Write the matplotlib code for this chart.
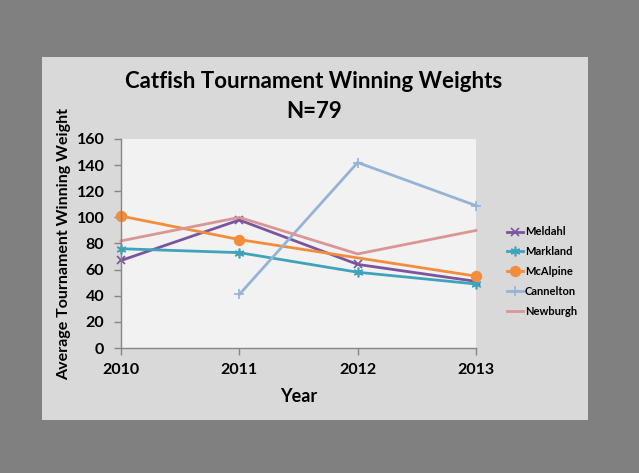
import matplotlib

matplotlib.use("Agg", force=True)
import matplotlib.pyplot as plt
from matplotlib.patches import Rectangle

plt.rcParams["font.family"] = ["Lato", "DejaVu Sans"]
plt.rcParams["font.weight"] = "bold"

years = ["2010", "2011", "2012", "2013"]
meldahl = [67, 98, 64, 51]
markland = [76, 73, 58, 49]
mcalpine = [101, 83, 69, 55]
cannelton = [None, 41, 142, 109]
newburgh = [82, 100, 72, 90]

series = [
    ("Meldahl", meldahl, "#7a559f", "x", 6),
    ("Markland", markland, "#3fa3bb", (6, 2, 0), 7),
    ("McAlpine", mcalpine, "#f38d3c", "o", 7),
    ("Cannelton", cannelton, "#95b3d7", "+", 7),
    ("Newburgh", newburgh, "#d99694", None, 0),
]

fig = plt.figure(figsize=(6.39, 4.73), dpi=100, facecolor="#808080")
fig.patches.append(
    Rectangle((42 / 639, 1 - 420 / 473), 546 / 639, 363 / 473,
              transform=fig.transFigure, facecolor="#d9d9d9", edgecolor="none", zorder=-10)
)
ax = fig.add_axes([121 / 639, 1 - 348 / 473, 355 / 639, 209 / 473])
ax.set_facecolor("#f2f2f2")

x = list(range(len(years)))
for name, vals, color, marker, ms in series:
    xs = [xi for xi, v in zip(x, vals) if v is not None]
    ys = [v for v in vals if v is not None]
    kw = {}
    if name == "McAlpine":
        kw["markevery"] = [0, 1, 3]
    ax.plot(xs, ys, color=color, lw=2, marker=marker, ms=ms, mew=1.2,
            label=name, clip_on=False, **kw)

ax.set_xlim(0, 3)
ax.set_ylim(0, 160)
ax.set_xticks(x)
ax.set_xticklabels(years)
ax.set_yticks(range(0, 161, 20))
for s in ["top", "right"]:
    ax.spines[s].set_visible(False)
for s in ["left", "bottom"]:
    ax.spines[s].set_color("#868686")
    ax.spines[s].set_linewidth(1)
ax.tick_params(axis="both", colors="#868686", labelcolor="black", labelsize=11.5,
               length=5, width=1)
ax.tick_params(axis="x", pad=6)
ax.tick_params(axis="y", pad=7)

ax.set_xlabel("Year", fontsize=13, fontweight="bold", labelpad=8)
ax.set_ylabel("Average Tournament Winning Weight", fontsize=11.5, fontweight="bold", labelpad=4)
fig.text(314 / 639, 1 - 82 / 473, "Catfish Tournament Winning Weights",
         ha="center", va="center", fontsize=16, fontweight="bold")
fig.text(314 / 639, 1 - 111 / 473, "N=79",
         ha="center", va="center", fontsize=16, fontweight="bold")

leg = ax.legend(loc="center left", bbox_to_anchor=(1.06, 0.365), frameon=False,
                fontsize=8, handlelength=1.4, handletextpad=0.2, labelspacing=0.8)

fig.savefig("out.png", dpi=100, facecolor=fig.get_facecolor())
